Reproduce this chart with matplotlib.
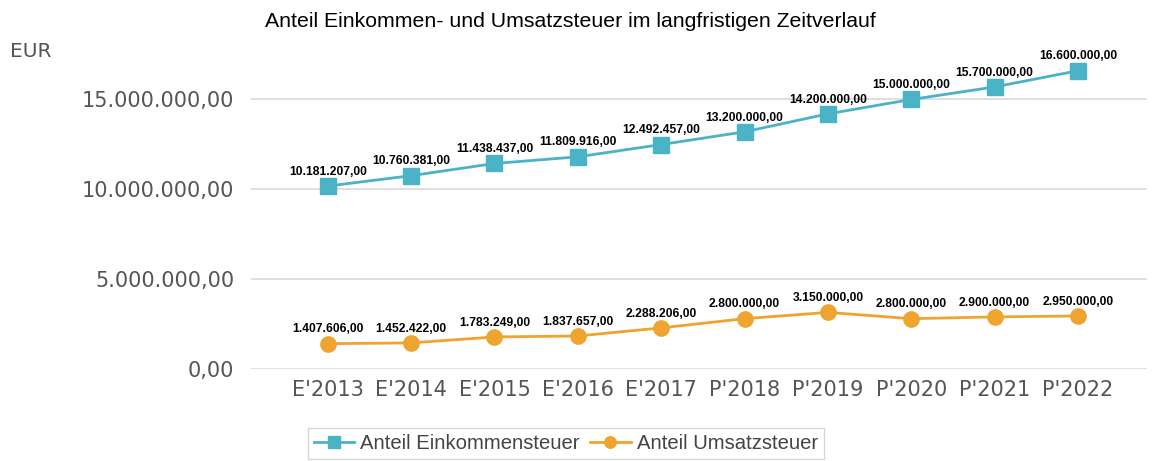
import matplotlib.pyplot as plt
import matplotlib.ticker as mticker

jahre = ["E'2013", "E'2014", "E'2015", "E'2016", "E'2017",
         "P'2018", "P'2019", "P'2020", "P'2021", "P'2022"]
einkommen = [10181207, 10760381, 11438437, 11809916, 12492457,
             13200000, 14200000, 15000000, 15700000, 16600000]
umsatz = [1407606, 1452422, 1783249, 1837657, 2288206,
          2800000, 3150000, 2800000, 2900000, 2950000]

farbe_ek = '#4BB3C6'
farbe_ust = '#EFA42F'


def de_format(v):
    # deutsches Zahlenformat: 1.234.567,00
    s = '{:,.2f}'.format(v)
    return s.replace(',', 'X').replace('.', ',').replace('X', '.')


plt.rcParams['font.family'] = ['Liberation Sans', 'DejaVu Sans']

fig = plt.figure(figsize=(11.52, 4.61), dpi=100)
ax = fig.add_axes([0.218, 0.1996, 0.7777, 0.682])

x = list(range(len(jahre)))
ax.plot(x, einkommen, color=farbe_ek, lw=2, marker='s', ms=11,
        label='Anteil Einkommensteuer', zorder=3)
ax.plot(x, umsatz, color=farbe_ust, lw=2, marker='o', ms=11,
        label='Anteil Umsatzsteuer', zorder=3)

for xi, v in zip(x, einkommen):
    ax.annotate(de_format(v), (xi, v), xytext=(0, 6), textcoords='offset points',
                ha='center', va='bottom', fontsize=8.7, fontweight='bold')
for xi, v in zip(x, umsatz):
    ax.annotate(de_format(v), (xi, v), xytext=(0, 6), textcoords='offset points',
                ha='center', va='bottom', fontsize=8.7, fontweight='bold')

ax.set_xlim(-0.92, 9.83)
ax.set_ylim(0, 17500000)
ax.set_yticks([0, 5000000, 10000000, 15000000])
ax.yaxis.set_major_formatter(mticker.FuncFormatter(lambda v, p: de_format(v)))
ax.set_xticks(x)
ax.set_xticklabels(jahre)
ax.tick_params(axis='both', length=0, labelsize=15, labelcolor='#555555')
ax.tick_params(axis='y', pad=12)
ax.tick_params(axis='x', pad=8)
for lab in ax.get_xticklabels() + ax.get_yticklabels():
    lab.set_family('DejaVu Sans')
ax.grid(axis='y', color='#d9d9d9', lw=1.2)
ax.set_axisbelow(True)
for s in ax.spines.values():
    s.set_visible(False)

fig.text(0.009, 0.877, 'EUR', fontsize=14.5, color='#555555', family='DejaVu Sans')
fig.text(0.495, 0.953, 'Anteil Einkommen- und Umsatzsteuer im langfristigen Zeitverlauf',
         ha='center', va='center', fontsize=15.3)

leg = fig.legend(loc='upper left', bbox_to_anchor=(0.267, 0.072), ncol=2,
                 fontsize=14.6, frameon=True, fancybox=False, edgecolor='#cccccc',
                 handlelength=2.0, columnspacing=0.5, handletextpad=0.3,
                 borderaxespad=0, markerscale=0.75, borderpad=0.3)
for t in leg.get_texts():
    t.set_color('#444444')

fig.savefig('out.png', dpi=100)
